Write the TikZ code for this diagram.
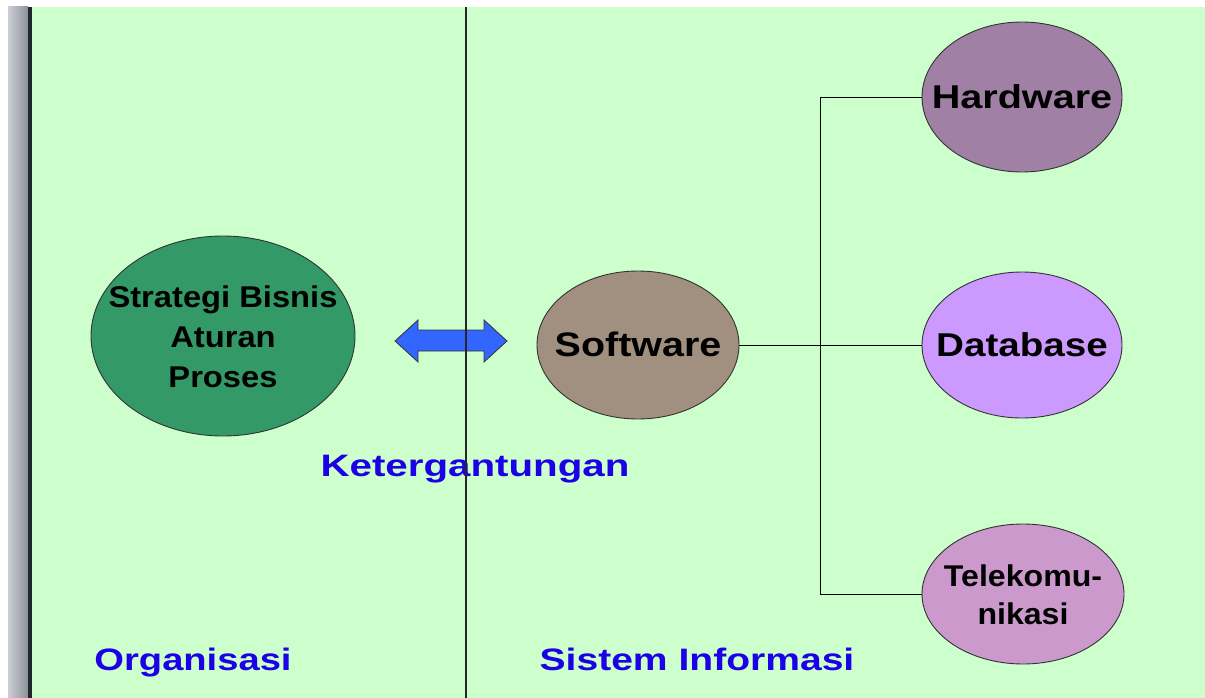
\documentclass[tikz,border=0pt]{standalone}
\usepackage{fontspec}
\setmainfont{Liberation Sans}
\usepackage{xcolor}
\usepackage{graphicx}
\usetikzlibrary{shapes.geometric, positioning, calc}

\definecolor{bgijo}{HTML}{CCFFCC}
\definecolor{ijotua}{HTML}{339966}
\definecolor{coklat}{RGB}{161,144,128}
\definecolor{ungutua}{RGB}{160,128,164}
\definecolor{ungumuda}{HTML}{CC99FF}
\definecolor{merahmuda}{HTML}{CC99CC}
\definecolor{panah}{HTML}{3366FF}
\definecolor{birulabel}{RGB}{28,0,230}
\definecolor{abuterang}{RGB}{204,208,214}
\definecolor{abugelap}{RGB}{142,146,152}
\definecolor{garistepi}{RGB}{30,38,46}

% teks yang sedikit dilebarkan (lebar nol, ukuran elips diatur sendiri)
\newcommand{\wtxt}[2]{\makebox[0pt][c]{\raisebox{-3.5pt}[\height][\depth]{\scalebox{#1}[1]{\begin{tabular}{@{}c@{}}#2\end{tabular}}}}}

\begin{document}
\begin{tikzpicture}[x=1pt,y=-1pt,
    elips/.style={ellipse, draw=black!80, line width=0.9pt, inner sep=0pt},
    judul/.style={text=birulabel, font=\fontsize{31}{36}\selectfont\bfseries}]
    \useasboundingbox[fill=white] (0,0) rectangle (1205,698);

    % latar belakang
    \fill[bgijo] (32,7) rectangle (1205,698);
    \shade[left color=abuterang, right color=abugelap] (8,7) rectangle (28,698);
    \fill[garistepi] (28,7) rectangle (32,698);

    % sisi organisasi
    \node[elips, fill=ijotua, minimum width=264pt, minimum height=200pt,
          font=\fontsize{30}{40}\selectfont\bfseries] (strategi) at (223,336)
          {\wtxt{1.09}{Strategi Bisnis\\Aturan\\Proses}};

    % panah dua arah
    \draw[fill=panah, draw=black!80, line width=0.8pt]
        (395,341) -- (418,320) -- (418,330) -- (484,330) -- (484,320) -- (507,341)
        -- (484,362) -- (484,351) -- (418,351) -- (418,362) -- cycle;

    % sisi sistem informasi
    \node[elips, fill=coklat, minimum width=202pt, minimum height=148pt,
          font=\fontsize{34}{40}\selectfont\bfseries] (software) at (638,345)
          {\wtxt{1.16}{Software}};
    \node[elips, fill=ungutua, minimum width=200pt, minimum height=150pt,
          font=\fontsize{33}{40}\selectfont\bfseries] (hardware) at (1022,97)
          {\wtxt{1.2}{Hardware}};
    \node[elips, fill=ungumuda, minimum width=200pt, minimum height=146pt,
          font=\fontsize{33}{40}\selectfont\bfseries] (database) at (1022,345)
          {\wtxt{1.17}{Database}};
    \node[elips, fill=merahmuda, minimum width=202pt, minimum height=140pt,
          font=\fontsize{30}{38}\selectfont\bfseries] (telekom) at (1023,594)
          {\wtxt{1.07}{Telekomu-\\nikasi}};

    % label
    \node[judul] (gantung) at (475,466) {\wtxt{1.3}{Ketergantungan}};
    \node[judul] (organisasi) at (193,660) {\wtxt{1.23}{Organisasi}};
    \node[judul] (sisteminfo) at (697,660) {\wtxt{1.26}{Sistem Informasi}};

    % penghubung
    \draw[line width=0.9pt] (software.east) -- (database.west);
    \draw[line width=0.9pt] (hardware.west) -- ++(-101,0) |- (telekom.west);

    % garis pemisah
    \draw[line width=1.3pt, black!85] (466,7) -- (466,698);
\end{tikzpicture}
\end{document}
